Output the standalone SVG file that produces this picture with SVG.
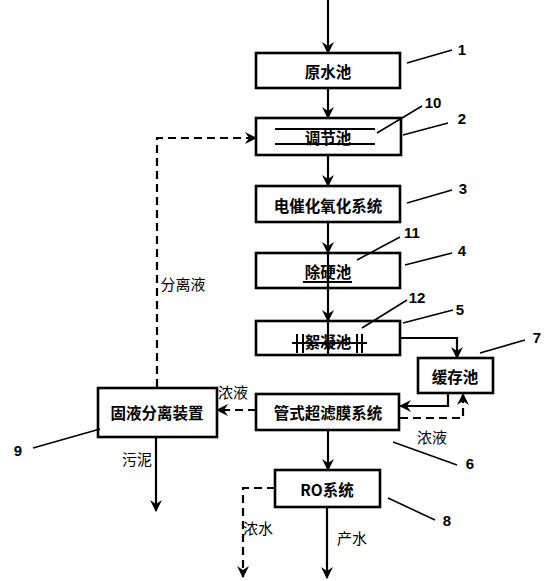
<svg xmlns="http://www.w3.org/2000/svg" width="547" height="581" viewBox="0 0 547 581">
<style>
.box{fill:#fff;stroke:#000;stroke-width:2.6}
.t{font-family:"Noto Sans CJK SC","Noto Sans",sans-serif;font-size:15.5px;font-weight:700;text-anchor:middle;dominant-baseline:central;fill:#000}
.lb{font-family:"Noto Sans CJK SC","Noto Sans",sans-serif;font-size:15px;text-anchor:middle;dominant-baseline:central;fill:#000}
.n{font-family:"Liberation Sans",Arial,sans-serif;font-size:15px;font-weight:bold;text-anchor:middle;dominant-baseline:central;fill:#000}
.c{fill:none;stroke:#000;stroke-width:2.2}
.d{fill:none;stroke:#000;stroke-width:2.2;stroke-dasharray:8 5}
.ld{fill:none;stroke:#000;stroke-width:1.6}
.m{fill:none;stroke:#000;stroke-width:2}
</style>
<defs>
<marker id="ah" viewBox="0 0 12 12" refX="11" refY="6" markerWidth="12" markerHeight="12" markerUnits="userSpaceOnUse" orient="auto">
<path d="M0,0 L12,6 L0,12 L4,6 Z" fill="#000"/>
</marker>
</defs>
<g id="connectors">
<path class="c" d="M328,0 V53" marker-end="url(#ah)"/>
<path class="c" d="M328,88 V118" marker-end="url(#ah)"/>
<path class="c" d="M328,155 V186" marker-end="url(#ah)"/>
<path class="c" d="M328,222 V253" marker-end="url(#ah)"/>
<path class="c" d="M328,288 V321" marker-end="url(#ah)"/>
<path class="c" d="M400,338 H457 V358" marker-end="url(#ah)"/>
<path class="c" d="M448,393 V406 H400" marker-end="url(#ah)"/>
<path class="d" d="M400,418 H463 V394" marker-end="url(#ah)"/>
<path class="d" d="M256,410 H217" marker-end="url(#ah)"/>
<path class="d" d="M157,387 V138 H256" marker-end="url(#ah)"/>
<path class="c" d="M156,437 V511" marker-end="url(#ah)"/>
<path class="c" d="M328,430 V470" marker-end="url(#ah)"/>
<path class="c" d="M327,507 V578" marker-end="url(#ah)"/>
<path class="d" d="M275,488 H243 V577" marker-end="url(#ah)"/>
</g>
<g id="n1"><rect class="box" x="256" y="53" width="144" height="35"/><text class="t" x="328" y="71">原水池</text></g>
<g id="n2"><rect class="box" x="256" y="118" width="145" height="37"/><text class="t" x="328" y="137">调节池</text></g>
<g id="n10"><path class="m" d="M275,129 H375 M275,144 H375" stroke-width="2.6"/></g>
<g id="n3"><rect class="box" x="256" y="186" width="144" height="36"/><text class="t" x="328" y="205">电催化氧化系统</text></g>
<g id="n4"><rect class="box" x="256" y="253" width="144" height="35"/><path class="c" d="M328,253 V288"/><text class="t" x="328" y="271">除硬池</text></g>
<g id="n11"><path class="m" d="M303,282 H352" stroke-width="2.6"/></g>
<g id="n5"><rect class="box" x="256" y="321" width="144" height="34"/><path class="c" d="M328,321 V355"/><text class="t" x="328" y="341">絮凝池</text></g>
<g id="n12"><path class="m" d="M292,343 H367 M297,334 V353 M303,334 V353 M357,334 V353 M362,334 V353"/></g>
<g id="n7"><rect class="box" x="418" y="358" width="75" height="35"/><text class="t" x="455" y="376">缓存池</text></g>
<g id="n6"><rect class="box" x="256" y="394" width="143" height="36"/><text class="t" x="328" y="412">管式超滤膜系统</text></g>
<g id="n9"><rect class="box" x="98" y="388" width="119" height="49"/><text class="t" x="157" y="412">固液分离装置</text></g>
<g id="n8"><rect class="box" x="275" y="470" width="105" height="37"/><text class="t" x="327" y="489">RO系统</text></g>
<g id="labels">
<text class="lb" x="233" y="391">浓液</text>
<text class="lb" x="432" y="436">浓液</text>
<text class="lb" x="183" y="283">分离液</text>
<text class="lb" x="137" y="458">污泥</text>
<text class="lb" x="258" y="527">浓水</text>
<text class="lb" x="352" y="537">产水</text>
</g>
<g id="leaders">
<path class="ld" d="M407,63 L452,50"/>
<path class="ld" d="M377,133 L422,106"/>
<path class="ld" d="M403,135 L448,123"/>
<path class="ld" d="M407,203 L452,190"/>
<path class="ld" d="M357,260 L400,237"/>
<path class="ld" d="M405,265 L452,253"/>
<path class="ld" d="M362,328 L407,300"/>
<path class="ld" d="M403,323 L453,310"/>
<path class="ld" d="M480,353 L525,340"/>
<path class="ld" d="M393,442 L457,465"/>
<path class="ld" d="M388,498 L435,520"/>
<path class="ld" d="M33,448 L100,429"/>
<text class="n" x="462" y="49">1</text>
<text class="n" x="433" y="102">10</text>
<text class="n" x="462" y="118">2</text>
<text class="n" x="463" y="188">3</text>
<text class="n" x="412" y="232">11</text>
<text class="n" x="462" y="250">4</text>
<text class="n" x="417" y="297">12</text>
<text class="n" x="460" y="309">5</text>
<text class="n" x="537" y="337">7</text>
<text class="n" x="470" y="463">6</text>
<text class="n" x="447" y="520">8</text>
<text class="n" x="18" y="450">9</text>
</g>
</svg>
